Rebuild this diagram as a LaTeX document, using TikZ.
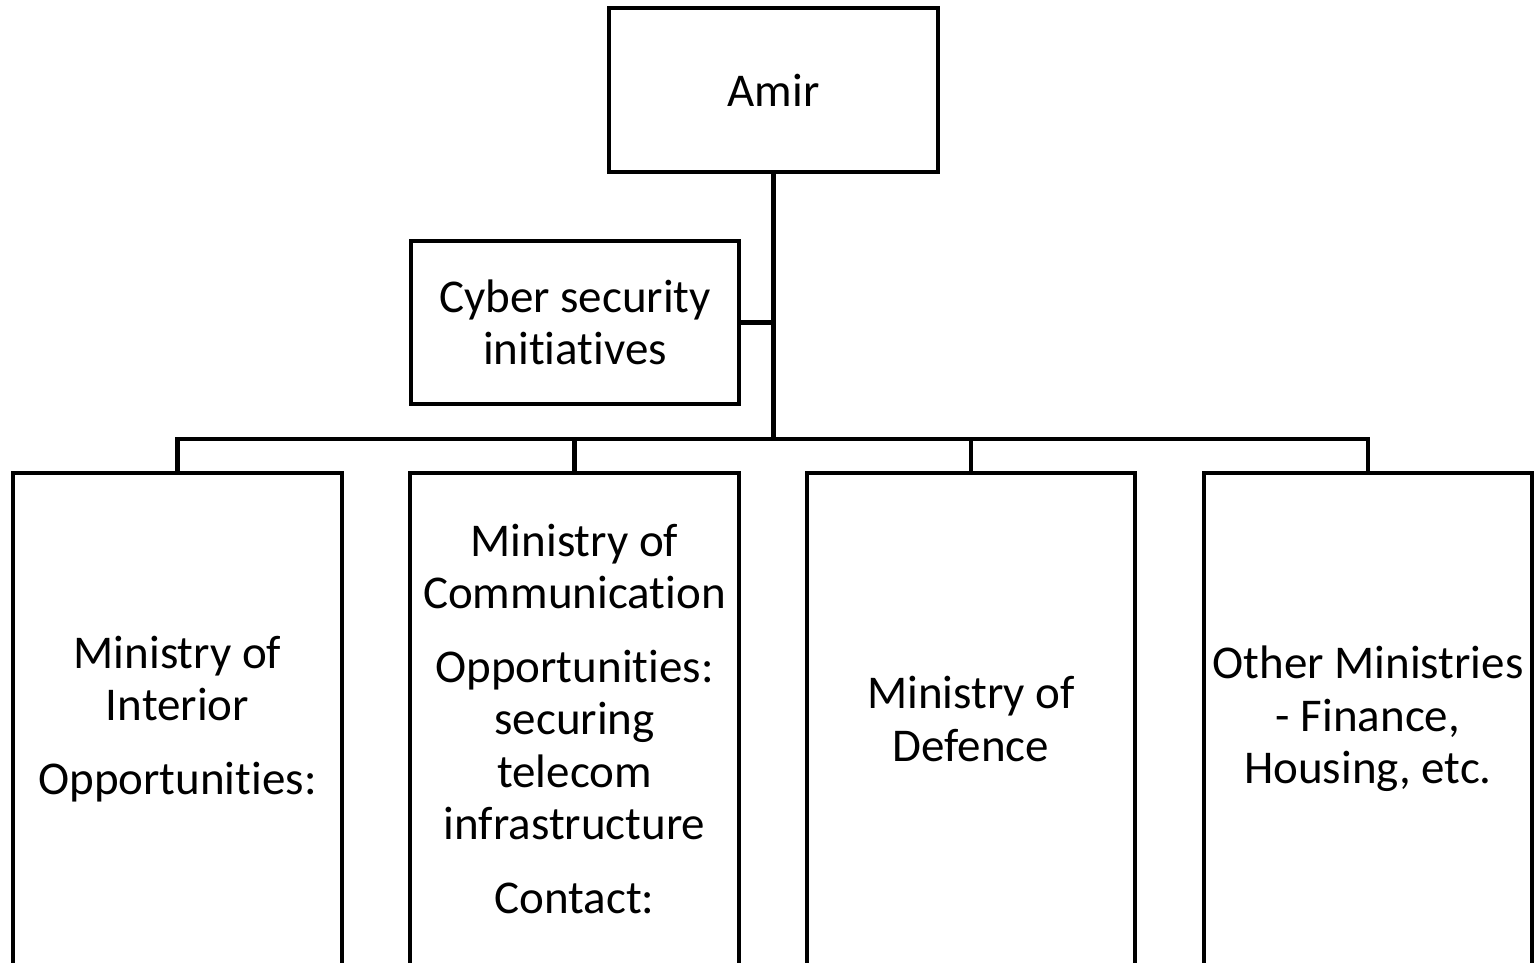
\documentclass[tikz,border=0pt]{standalone}
\usepackage{fontspec}
\setmainfont{Carlito}[RawFeature=-liga]
\begin{document}
\begin{tikzpicture}[x=1pt,y=-1pt,
  box/.style={draw=black, line width=4.5pt, inner sep=0pt, outer sep=0pt, align=center,
    font=\fontsize{47}{52.5}\selectfont},
  link/.style={draw=black, line width=4.5pt}]
\useasboundingbox (0,0) rectangle (1537,963);
\clip (0,0) rectangle (1537,963);
\node[box, minimum width=329pt, minimum height=164pt] (amir) at (773.5,90) {Amir};
\node[box, minimum width=328pt, minimum height=163pt] (cyber) at (575,322.5) {Cyber security\\initiatives};
\node[box, minimum width=329pt, minimum height=492pt] (interior) at (177.5,719) {Ministry of\\Interior\\[21pt]Opportunities:};
\node[box, minimum width=329pt, minimum height=492pt] (comm) at (574.5,719) {Ministry of\\Communication\\[21pt]Opportunities:\\securing\\telecom\\infrastructure\\[21pt]Contact:};
\node[box, minimum width=328pt, minimum height=492pt] (defence) at (971,719) {Ministry of\\Defence};
\node[box, minimum width=328pt, minimum height=492pt] (other) at (1368,719) {Other Ministries\\- Finance,\\Housing, etc.};
\coordinate (j) at (773.5,439);
\draw[link] (amir.south) -- (amir.south |- j);
\draw[link] (cyber.east) -- (cyber.east -| amir.south);
\draw[link] (interior.north) -- (interior.north |- j) -- (other.north |- j) -- (other.north);
\draw[link] (comm.north |- j) -- (comm.north);
\draw[link] (defence.north |- j) -- (defence.north);
\end{tikzpicture}
\end{document}
